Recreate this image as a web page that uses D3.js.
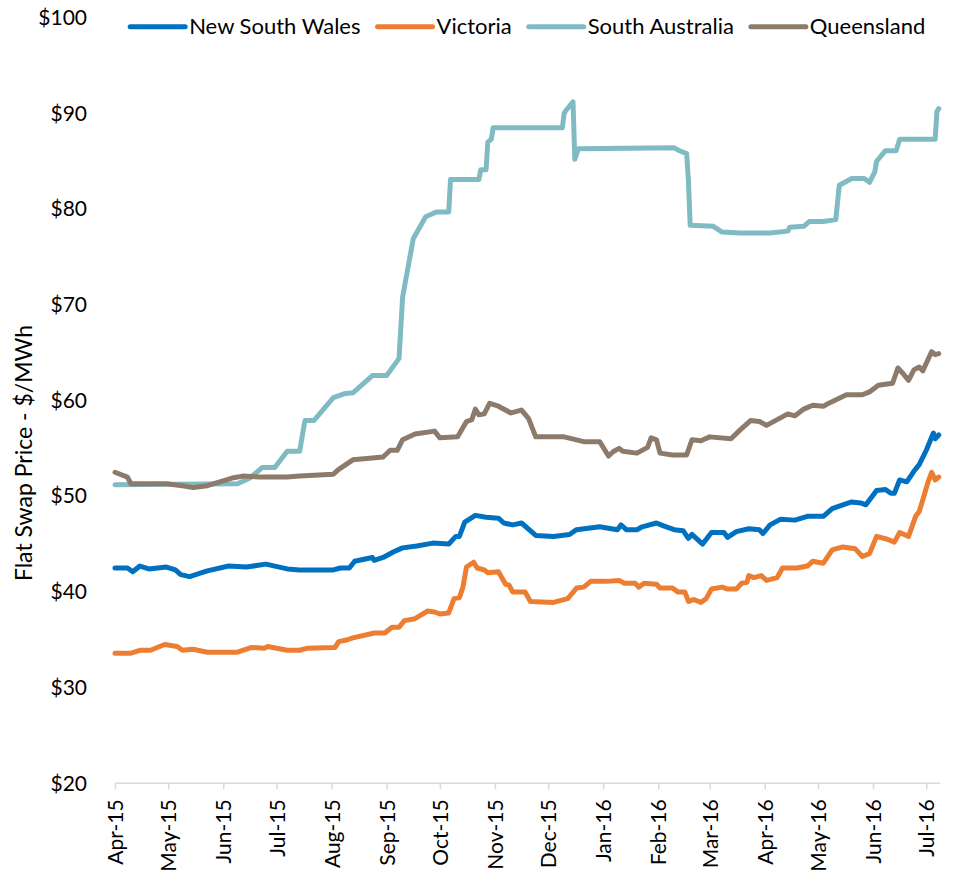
<!DOCTYPE html>
<html>
<head>
<meta charset="utf-8">
<script src="https://cdn.jsdelivr.net/npm/d3@7"></script>
<style>
    body { margin: 0; background: #fff; }
    svg { display: block; font-family: Lato, "Open Sans", sans-serif; }
    .series { fill: none; stroke-width: 5; stroke-linejoin: round; stroke-linecap: round; }
</style>
</head>
<body>
<svg id="chart"></svg>
<script>
// flat swap prices, $/MWh
const nswPrices = [
    ["2015-04-01", 42.5], ["2015-04-08", 42.5], ["2015-04-11", 42.1], ["2015-04-15", 42.7], ["2015-04-20", 42.4],
    ["2015-04-30", 42.6], ["2015-05-05", 42.3], ["2015-05-08", 41.8], ["2015-05-13", 41.6], ["2015-05-23", 42.2],
    ["2015-06-04", 42.7], ["2015-06-14", 42.6], ["2015-06-25", 42.9], ["2015-07-07", 42.4], ["2015-07-14", 42.3],
    ["2015-08-02", 42.3], ["2015-08-06", 42.5], ["2015-08-11", 42.5], ["2015-08-14", 43.2], ["2015-08-24", 43.6],
    ["2015-08-25", 43.3], ["2015-08-30", 43.6], ["2015-09-05", 44.2], ["2015-09-10", 44.6], ["2015-09-18", 44.8],
    ["2015-09-27", 45.1], ["2015-10-06", 45.0], ["2015-10-10", 45.8], ["2015-10-12", 45.8], ["2015-10-15", 47.3],
    ["2015-10-21", 48.0], ["2015-10-27", 47.8], ["2015-11-03", 47.7], ["2015-11-06", 47.2], ["2015-11-11", 47.0],
    ["2015-11-16", 47.2], ["2015-11-24", 45.9], ["2015-12-04", 45.8], ["2015-12-13", 46.0], ["2015-12-17", 46.5],
    ["2015-12-30", 46.8], ["2016-01-09", 46.5], ["2016-01-11", 47.0], ["2016-01-14", 46.5], ["2016-01-20", 46.5],
    ["2016-01-23", 46.8], ["2016-01-31", 47.2], ["2016-02-04", 46.9], ["2016-02-10", 46.5], ["2016-02-15", 46.4],
    ["2016-02-18", 45.6], ["2016-02-20", 46.0], ["2016-02-26", 45.0], ["2016-03-02", 46.2], ["2016-03-09", 46.2],
    ["2016-03-11", 45.7], ["2016-03-16", 46.3], ["2016-03-23", 46.6], ["2016-03-29", 46.5], ["2016-03-31", 46.1],
    ["2016-04-04", 47.0], ["2016-04-10", 47.6], ["2016-04-18", 47.5], ["2016-04-25", 47.9], ["2016-05-04", 47.9],
    ["2016-05-09", 48.7], ["2016-05-15", 49.1], ["2016-05-20", 49.4], ["2016-05-25", 49.3], ["2016-05-28", 49.1],
    ["2016-06-03", 50.6], ["2016-06-08", 50.7], ["2016-06-11", 50.3], ["2016-06-13", 50.3], ["2016-06-16", 51.7],
    ["2016-06-20", 51.5], ["2016-06-24", 52.6], ["2016-06-27", 53.3], ["2016-07-01", 54.8], ["2016-07-05", 56.6],
    ["2016-07-06", 56.0], ["2016-07-08", 56.4]
];

const vicPrices = [
    ["2015-04-01", 33.6], ["2015-04-10", 33.6], ["2015-04-15", 33.9], ["2015-04-21", 33.9], ["2015-04-29", 34.5],
    ["2015-05-06", 34.3], ["2015-05-09", 33.9], ["2015-05-15", 34.0], ["2015-05-23", 33.7], ["2015-06-09", 33.7],
    ["2015-06-17", 34.2], ["2015-06-24", 34.1], ["2015-06-26", 34.3], ["2015-07-07", 33.9], ["2015-07-14", 33.9],
    ["2015-07-18", 34.1], ["2015-08-03", 34.2], ["2015-08-05", 34.8], ["2015-08-10", 35.0], ["2015-08-13", 35.2],
    ["2015-08-25", 35.7], ["2015-08-31", 35.7], ["2015-09-04", 36.3], ["2015-09-08", 36.3], ["2015-09-11", 37.0],
    ["2015-09-17", 37.2], ["2015-09-24", 38.0], ["2015-09-28", 37.9], ["2015-10-01", 37.7], ["2015-10-06", 37.8],
    ["2015-10-09", 39.3], ["2015-10-12", 39.4], ["2015-10-14", 40.5], ["2015-10-16", 42.6], ["2015-10-20", 43.1],
    ["2015-10-22", 42.5], ["2015-10-26", 42.3], ["2015-10-28", 42.0], ["2015-11-03", 42.1], ["2015-11-07", 40.8],
    ["2015-11-09", 40.7], ["2015-11-11", 40.0], ["2015-11-18", 40.0], ["2015-11-21", 39.0], ["2015-12-04", 38.9],
    ["2015-12-12", 39.3], ["2015-12-17", 40.4], ["2015-12-21", 40.5], ["2015-12-25", 41.1], ["2016-01-03", 41.1],
    ["2016-01-10", 41.2], ["2016-01-13", 40.9], ["2016-01-19", 40.9], ["2016-01-21", 40.5], ["2016-01-24", 40.9],
    ["2016-01-31", 40.8], ["2016-02-02", 40.4], ["2016-02-09", 40.4], ["2016-02-12", 40.0], ["2016-02-16", 40.0],
    ["2016-02-18", 39.0], ["2016-02-21", 39.2], ["2016-02-25", 38.9], ["2016-02-28", 39.3], ["2016-03-02", 40.3],
    ["2016-03-08", 40.5], ["2016-03-11", 40.3], ["2016-03-16", 40.3], ["2016-03-19", 40.9], ["2016-03-22", 41.0],
    ["2016-03-23", 41.7], ["2016-03-26", 41.5], ["2016-03-30", 41.7], ["2016-04-02", 41.2], ["2016-04-08", 41.5],
    ["2016-04-11", 42.5], ["2016-04-19", 42.5], ["2016-04-25", 42.7], ["2016-04-28", 43.2], ["2016-05-04", 43.0],
    ["2016-05-09", 44.4], ["2016-05-15", 44.7], ["2016-05-22", 44.5], ["2016-05-26", 43.7], ["2016-05-30", 44.0],
    ["2016-06-03", 45.8], ["2016-06-09", 45.5], ["2016-06-13", 45.2], ["2016-06-16", 46.2], ["2016-06-21", 45.8],
    ["2016-06-25", 47.9], ["2016-06-27", 48.4], ["2016-06-29", 49.6], ["2016-07-02", 51.5], ["2016-07-04", 52.5],
    ["2016-07-06", 51.7], ["2016-07-08", 52.0]
];

const saPrices = [
    ["2015-04-01", 51.2], ["2015-06-09", 51.3], ["2015-06-16", 51.9], ["2015-06-23", 53.0], ["2015-06-30", 53.0],
    ["2015-07-07", 54.7], ["2015-07-14", 54.7], ["2015-07-17", 57.9], ["2015-07-22", 57.9], ["2015-08-02", 60.3],
    ["2015-08-08", 60.7], ["2015-08-13", 60.8], ["2015-08-24", 62.6], ["2015-09-01", 62.6], ["2015-09-08", 64.4],
    ["2015-09-10", 70.8], ["2015-09-16", 76.9], ["2015-09-23", 79.2], ["2015-09-29", 79.7], ["2015-10-06", 79.7],
    ["2015-10-07", 83.1], ["2015-10-23", 83.1], ["2015-10-24", 84.1], ["2015-10-27", 84.1], ["2015-10-28", 87.0],
    ["2015-10-30", 87.3], ["2015-10-31", 88.5], ["2015-12-09", 88.5], ["2015-12-10", 90.0], ["2015-12-11", 90.3],
    ["2015-12-15", 91.2], ["2015-12-16", 85.2], ["2015-12-18", 86.3], ["2016-02-10", 86.4], ["2016-02-13", 86.1],
    ["2016-02-17", 85.8], ["2016-02-18", 83.0], ["2016-02-19", 78.3], ["2016-03-03", 78.2], ["2016-03-08", 77.6],
    ["2016-03-18", 77.5], ["2016-04-04", 77.5], ["2016-04-14", 77.7], ["2016-04-15", 78.1], ["2016-04-23", 78.2],
    ["2016-04-26", 78.7], ["2016-05-04", 78.7], ["2016-05-11", 78.9], ["2016-05-13", 82.5], ["2016-05-20", 83.2],
    ["2016-05-27", 83.2], ["2016-05-30", 82.8], ["2016-06-02", 83.9], ["2016-06-03", 85.0], ["2016-06-08", 86.1],
    ["2016-06-14", 86.1], ["2016-06-16", 87.3], ["2016-07-06", 87.3], ["2016-07-07", 90.2], ["2016-07-08", 90.5]
];

const qldPrices = [
    ["2015-04-01", 52.5], ["2015-04-08", 52.0], ["2015-04-10", 51.3], ["2015-04-19", 51.3], ["2015-04-30", 51.3],
    ["2015-05-09", 51.1], ["2015-05-15", 50.9], ["2015-05-23", 51.1], ["2015-06-06", 51.9], ["2015-06-12", 52.1],
    ["2015-06-22", 52.0], ["2015-07-07", 52.0], ["2015-07-14", 52.1], ["2015-08-02", 52.3], ["2015-08-05", 52.8],
    ["2015-08-13", 53.8], ["2015-08-30", 54.1], ["2015-09-03", 54.8], ["2015-09-07", 54.8], ["2015-09-10", 55.9],
    ["2015-09-17", 56.5], ["2015-09-28", 56.8], ["2015-10-01", 56.1], ["2015-10-11", 56.2], ["2015-10-16", 57.8],
    ["2015-10-19", 58.0], ["2015-10-21", 59.1], ["2015-10-23", 58.5], ["2015-10-26", 58.6], ["2015-10-29", 59.7],
    ["2015-11-03", 59.4], ["2015-11-10", 58.7], ["2015-11-16", 59.0], ["2015-11-20", 58.1], ["2015-11-24", 56.2],
    ["2015-12-10", 56.2], ["2015-12-21", 55.7], ["2015-12-30", 55.7], ["2016-01-04", 54.2], ["2016-01-07", 54.7],
    ["2016-01-10", 55.0], ["2016-01-12", 54.7], ["2016-01-20", 54.5], ["2016-01-26", 55.1], ["2016-01-28", 56.1],
    ["2016-01-31", 55.9], ["2016-02-02", 54.5], ["2016-02-09", 54.3], ["2016-02-17", 54.3], ["2016-02-20", 55.9],
    ["2016-02-25", 55.8], ["2016-03-01", 56.2], ["2016-03-13", 56.0], ["2016-03-18", 56.9], ["2016-03-24", 57.9],
    ["2016-03-29", 57.8], ["2016-04-02", 57.4], ["2016-04-08", 58.0], ["2016-04-14", 58.6], ["2016-04-18", 58.4],
    ["2016-04-23", 59.1], ["2016-04-28", 59.5], ["2016-05-04", 59.4], ["2016-05-08", 59.8], ["2016-05-17", 60.6],
    ["2016-05-26", 60.6], ["2016-05-30", 60.9], ["2016-06-04", 61.6], ["2016-06-12", 61.8], ["2016-06-15", 63.4],
    ["2016-06-18", 62.8], ["2016-06-21", 62.1], ["2016-06-24", 63.2], ["2016-06-27", 63.5], ["2016-06-29", 63.1],
    ["2016-07-04", 65.1], ["2016-07-06", 64.8], ["2016-07-08", 64.9]
];

const regions = ["New South Wales", "Victoria", "South Australia", "Queensland"];
const regionColors = ["#0070C0", "#ED7D31", "#80BBC4", "#8C7B6B"];
const regionPrices = [nswPrices, vicPrices, saPrices, qldPrices];

const yTicks = [20, 30, 40, 50, 60, 70, 80, 90, 100];
const dateRange = ["2015-04-01", "2016-07-09"];

const WIDTH = 957, HEIGHT = 872;
const LEFT = 115, RIGHT = 940.5;
const TOP = 17.7, BOTTOM = 783.3;

const parse = d3.timeParse("%Y-%m-%d");
const fmt = d3.timeFormat("%b-%y");

const svg = d3.select("#chart")
    .attr("width", WIDTH)
    .attr("height", HEIGHT);

const x = d3.scaleTime()
    .domain(dateRange.map(parse))
    .range([LEFT, RIGHT]);
const y = d3.scaleLinear()
    .domain([20, 100])
    .range([BOTTOM, TOP]);

// y tick labels only, no axis line
const yAxis = svg.append("g")
    .attr("transform", `translate(${LEFT}, 0)`)
    .call(d3.axisLeft(y).tickValues(yTicks).tickSize(0).tickPadding(28).tickFormat(d => "$" + d));
yAxis.select(".domain").remove();
yAxis.selectAll("text")
    .attr("font-family", "Lato, sans-serif")
    .attr("font-size", 21)
    .attr("fill", "#000");

// x axis along the bottom, one tick per month
const xAxis = svg.append("g")
    .attr("transform", `translate(0, ${BOTTOM})`)
    .call(d3.axisBottom(x)
        .tickValues(d3.timeMonth.range(parse("2015-04-01"), parse("2016-07-02")))
        .tickSize(6)
        .tickFormat(fmt));
xAxis.select(".domain")
    .attr("d", `M${LEFT},0H${RIGHT - 0.5}`)
    .attr("stroke", "#D9D9D9")
    .attr("stroke-width", 1.5);
xAxis.selectAll(".tick line")
    .attr("stroke", "#D9D9D9")
    .attr("stroke-width", 1.5);
xAxis.selectAll(".tick text")
    .attr("font-family", "Lato, sans-serif")
    .attr("font-size", 21)
    .attr("fill", "#000")
    .attr("text-anchor", "end")
    .attr("transform", "rotate(-90)")
    .attr("x", -16)
    .attr("y", 0)
    .attr("dy", "0.36em");

svg.append("text")
    .attr("transform", `translate(32, ${(321 + 585) / 2}) rotate(-90)`)
    .attr("text-anchor", "middle")
    .attr("font-size", 23)
    .text("Flat Swap Price - $/MWh");

const line = d3.line()
    .x(d => x(parse(d[0])))
    .y(d => y(d[1]));

svg.append("g")
    .selectAll("path")
    .data(regionPrices)
    .join("path")
    .attr("class", "series")
    .attr("stroke", (d, i) => regionColors[i])
    .attr("d", line);

// legend, centred over the plot
const legend = svg.append("g");
let pos = 0;
regions.forEach(function (name, i) {
    const item = legend.append("g").attr("transform", `translate(${pos}, 0)`);
    item.append("line")
        .attr("x1", 0).attr("x2", 55)
        .attr("stroke", regionColors[i])
        .attr("stroke-width", 5)
        .attr("stroke-linecap", "round");
    const t = item.append("text")
        .attr("x", 59)
        .attr("dy", "0.35em")
        .attr("font-size", 22)
        .text(name);
    pos += 59 + t.node().getComputedTextLength() + 17;
});
pos -= 17;
legend.attr("transform", `translate(${(LEFT + RIGHT) / 2 - pos / 2}, 26.7)`);
</script>
</body>
</html>
